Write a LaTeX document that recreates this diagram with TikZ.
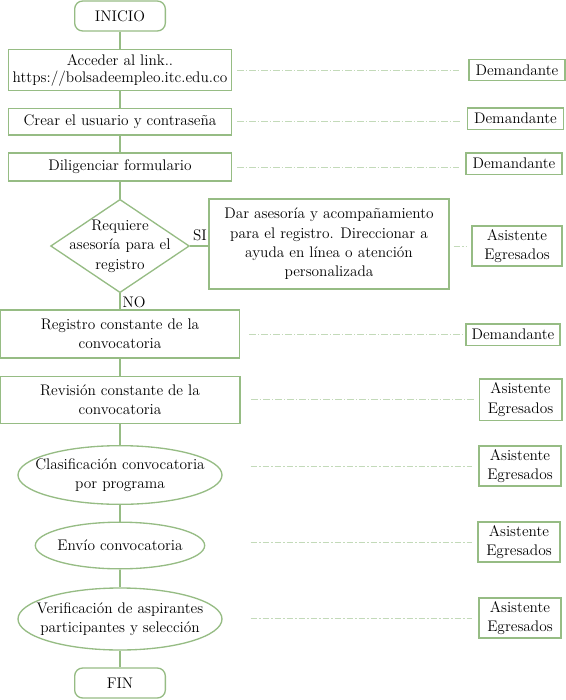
\documentclass[tikz,border=0pt]{standalone}
\usepackage{xcolor}
\usetikzlibrary{positioning, shapes.geometric, calc}
\definecolor{frameGreen}{RGB}{150,188,132}
\definecolor{guideGreen}{RGB}{195,218,185}
\tikzset{
    every node/.style={font=\fontsize{11.5pt}{14.5pt}\selectfont, align=center}, % same text everywhere
    terminal/.style={draw=frameGreen, line width=1pt, rounded corners=6pt, minimum width=68pt, minimum height=22.5pt},
    process/.style={draw=frameGreen, line width=1pt, rectangle, inner sep=2pt},
    decision/.style={draw=frameGreen, line width=1pt, diamond, inner sep=-15pt, minimum width=104pt, minimum height=70pt},
    activity/.style={draw=frameGreen, line width=1pt, ellipse, inner sep=-15pt},
    role/.style={draw=frameGreen, line width=1pt, rectangle, inner sep=1pt},
    flow/.style={draw=frameGreen, line width=1pt}, % the main connectors
    guide/.style={draw=guideGreen, line width=0.7pt, dash pattern=on 5pt off 1.5pt on 1pt off 1.5pt},
}

\begin{document}
\begin{tikzpicture}[x=0.75pt, y=-0.75pt]
    \useasboundingbox (0,0) rectangle (566,700);

    % main flow
    \node[terminal] (inicio) at (120,16) {INICIO};
    \node[process, minimum width=167pt, minimum height=31pt, font=\fontsize{11.5pt}{12.8pt}\selectfont] (link) at (120,70) {Acceder al link..\\https://bolsadeempleo.itc.edu.co};
    \node[process, minimum width=167pt, minimum height=20pt] (usuario) at (120,121.5) {Crear el usuario y contraseña};
    \node[process, minimum width=167pt, minimum height=21pt] (formulario) at (120,167) {Diligenciar formulario};
    \node[decision] (requiere) at (120,246) {Requiere\\asesoría para el\\registro};
    \node[process, minimum width=180pt, minimum height=67.5pt] (ayuda) at (329,244) {Dar asesoría y acompañamiento\\para el registro. Direccionar a\\ayuda en línea o atención\\personalizada};
    \node[process, minimum width=179pt, minimum height=36pt] (registro) at (120,334) {Registro constante de la\\convocatoria};
    \node[process, minimum width=180pt, minimum height=35pt] (revision) at (120,400) {Revisión constante de la\\convocatoria};
    \node[activity, minimum width=153pt, minimum height=44pt] (clasificacion) at (120,475) {Clasificación convocatoria\\por programa};
    \node[activity, minimum width=127pt, minimum height=35pt] (envio) at (120,545.5) {Envío convocatoria};
    \node[activity, minimum width=153pt, minimum height=46.5pt] (verificacion) at (120,619) {Verificación de aspirantes\\participantes y selección};
    \node[terminal] (fin) at (120,683) {FIN};

    \node (si) at (200,235) {SI};
    \node (no) at (134,302) {NO};

    % roles
    \node[role, minimum width=72pt, minimum height=16pt] (dem1) at (517,70) {Demandante};
    \node[role, minimum width=72pt, minimum height=16pt] (dem2) at (515.5,118.5) {Demandante};
    \node[role, minimum width=72pt, minimum height=16pt] (dem3) at (514,163.5) {Demandante};
    \node[role, minimum width=67.5pt, minimum height=30pt] (asis1) at (517,246) {Asistente\\Egresados};
    \node[role, minimum width=70.5pt, minimum height=16pt] (dem4) at (513,334.5) {Demandante};
    \node[role, minimum width=62pt, minimum height=31pt] (asis2) at (520.5,399.5) {Asistente\\Egresados};
    \node[role, minimum width=61.5pt, minimum height=30pt] (asis3) at (520,466) {Asistente\\Egresados};
    \node[role, minimum width=61.5pt, minimum height=30pt] (asis4) at (519,542) {Asistente\\Egresados};
    \node[role, minimum width=61.5pt, minimum height=30pt] (asis5) at (520,618) {Asistente\\Egresados};

    % connectors
    \draw[flow] (inicio) -- (link);
    \draw[flow] (link) -- (usuario);
    \draw[flow] (usuario) -- (formulario);
    \draw[flow] (formulario) -- (requiere);
    \draw[flow] (requiere.east) -- (requiere.east -| ayuda.west);
    \draw[flow] (requiere) -- (registro);
    \draw[flow] (registro) -- (revision);
    \draw[flow] (revision) -- (clasificacion);
    \draw[flow] (clasificacion) -- (envio);
    \draw[flow] (envio) -- (verificacion);
    \draw[flow] (verificacion) -- (fin);

    % dashed guides to the roles
    \draw[guide, shorten <=3.75pt, shorten >=6.75pt] (link.east) -- (link.east -| dem1.west);
    \draw[guide, shorten <=3.75pt, shorten >=5.25pt] (usuario.east) -- (usuario.east -| dem2.west);
    \draw[guide, shorten <=3.75pt, shorten >=4.5pt] (formulario.east) -- (formulario.east -| dem3.west);
    \draw[guide, shorten <=3pt, shorten >=3pt] (ayuda.east |- asis1.west) -- (asis1.west);
    \draw[guide, shorten <=7pt, shorten >=2.25pt] (registro.east |- dem4.west) -- (dem4.west);
    \draw[guide, shorten <=8pt, shorten >=3pt] (revision.east |- asis2.west) -- (asis2.west);
    \draw[guide, shorten <=21pt, shorten >=4.5pt] (clasificacion.east |- asis3.west) -- (asis3.west);
    \draw[guide, shorten <=34pt, shorten >=3.75pt] (envio.east |- asis4.west) -- (asis4.west);
    \draw[guide, shorten <=21pt, shorten >=4.5pt] (verificacion.east |- asis5.west) -- (asis5.west);
\end{tikzpicture}
\end{document}
